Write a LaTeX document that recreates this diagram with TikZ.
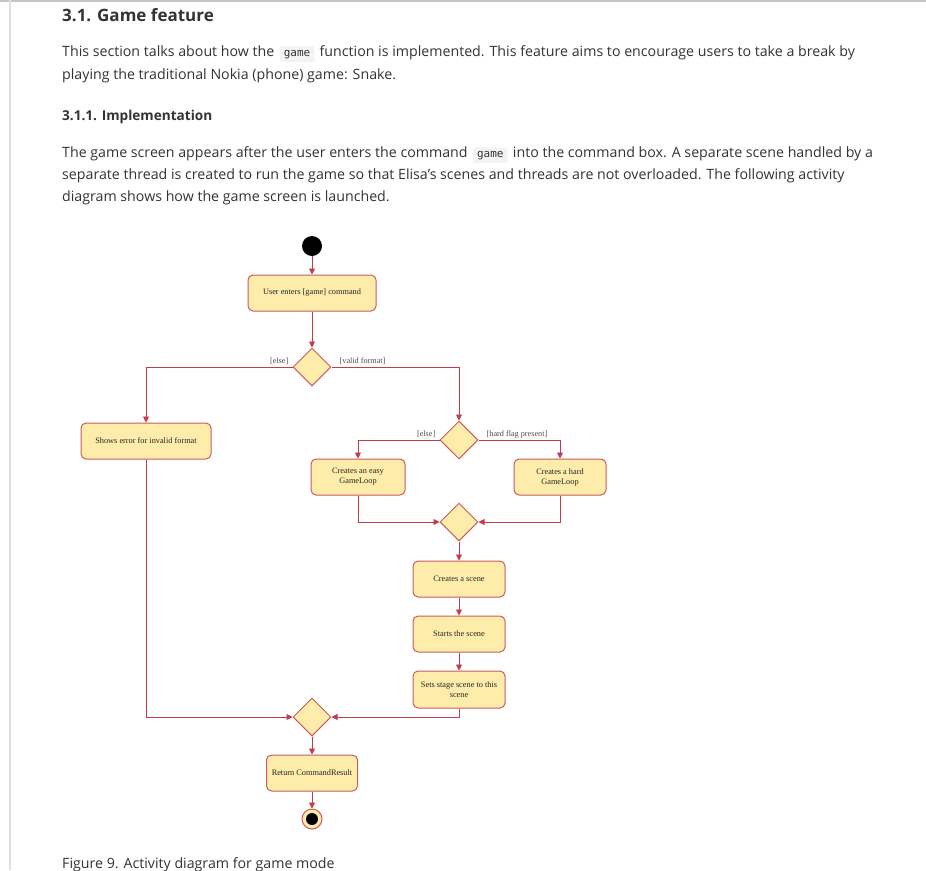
\documentclass[tikz,border=0pt]{standalone}
\usepackage{fontspec}
\setmainfont{Open Sans}
\setmonofont{DejaVu Sans Mono}
\newfontfamily\umlfont{Liberation Serif}
\usetikzlibrary{shapes.geometric,arrows.meta,positioning}
\definecolor{actfill}{RGB}{254,236,170}
\definecolor{actline}{RGB}{205,90,95}
\definecolor{flowline}{RGB}{195,60,75}
\definecolor{bodytext}{RGB}{51,51,51}
\definecolor{codefill}{RGB}{243,243,243}

\begin{document}
\begin{tikzpicture}[
    x=1pt, y=-1pt,
    actbox/.style={rectangle, draw=actline, fill=actfill, line width=1pt, rounded corners=5pt, minimum height=36pt, align=center, inner sep=2pt, font=\umlfont\fontsize{8.3}{10}\selectfont, text=black!85},
    choicebox/.style={diamond, draw=actline, fill=actfill, line width=1pt, minimum width=38pt, minimum height=38pt, inner sep=0pt},
    flow/.style={draw=flowline, line width=0.9pt, -{Triangle[length=6pt,width=6pt]}},
    guard/.style={font=\umlfont\fontsize{8.2}{9}\selectfont, text=black!70, inner sep=1pt},
    bodyline/.style={anchor=base west, inner sep=0pt, font=\fontsize{14.2}{17}\selectfont, text=bodytext},
    codebox/.style={fill=codefill, rounded corners=2pt, font=\ttfamily\fontsize{11}{12}\selectfont, inner xsep=4pt, inner ysep=3.5pt, text=bodytext}
]
    \useasboundingbox (0,0) rectangle (926,870);
    \clip (0,0) rectangle (926,870);
    \draw[gray!45, line width=1.5pt] (0,0.75) -- (926,0.75);
    \draw[gray!25, line width=1.5pt] (10,0) -- (10,870);

    % page text
    \node[bodyline, font=\bfseries\fontsize{17}{21}\selectfont] (title) at (62,21) {3.1. Game feature};
    \node[bodyline] (introa) at (62,56) {This section talks about how the};
    \node[codebox, right=5pt of introa.base east, anchor=base west] (codea) {game};
    \node[bodyline, right=5pt of codea.base east, anchor=base west] (introb) {function is implemented. This feature aims to encourage users to take a break by};
    \node[bodyline] (introc) at (62,79) {playing the traditional Nokia (phone) game: Snake.};
    \node[bodyline, font=\bfseries\fontsize{13.6}{17}\selectfont] (subtitle) at (62,120) {3.1.1. Implementation};
    \node[bodyline] (impla) at (62,157) {The game screen appears after the user enters the command};
    \node[codebox, right=5pt of impla.base east, anchor=base west] (codeb) {game};
    \node[bodyline, right=5pt of codeb.base east, anchor=base west] (implb) {into the command box. A separate scene handled by a};
    \node[bodyline] (implc) at (62,179) {separate thread is created to run the game so that Elisa's scenes and threads are not overloaded. The following activity};
    \node[bodyline] (impld) at (62,201) {diagram shows how the game screen is launched.};
    \node[bodyline] (caption) at (62,868) {Figure 9. Activity diagram for game mode};

    % activity diagram
    \node[circle, fill=black, minimum size=20pt, inner sep=0pt] (start) at (312,246) {};
    \node[actbox, minimum width=128pt] (enter) at (312,293) {User enters [game] command};
    \node[choicebox] (valid) at (312,367) {};
    \node[actbox, minimum width=130pt] (error) at (146,441) {Shows error for invalid format};
    \node[choicebox] (hard) at (459,440) {};
    \node[actbox, minimum width=94pt] (easy) at (358,477) {Creates an easy\\GameLoop};
    \node[actbox, minimum width=92pt] (hardloop) at (560,477) {Creates a hard\\GameLoop};
    \node[choicebox] (merge) at (459,522) {};
    \node[actbox, minimum width=92pt] (scene) at (459,579) {Creates a scene};
    \node[actbox, minimum width=92pt] (startscene) at (459,634) {Starts the scene};
    \node[actbox, minimum width=92pt, minimum height=37pt] (stage) at (459,689.5) {Sets stage scene to this\\scene};
    \node[choicebox] (join) at (312,717) {};
    \node[actbox, minimum width=91pt] (result) at (312,773) {Return CommandResult};
    \node[circle, draw=actline, fill=actfill, line width=1pt, minimum size=20pt, inner sep=0pt] (stop) at (312,819) {};
    \node[circle, fill=black, minimum size=12pt, inner sep=0pt] (stopdot) at (stop) {};

    \node[guard, above left=1pt and 3pt of valid.west] (elsea) {[else]};
    \node[guard, above right=1pt and 7pt of valid.east] (validlbl) {[valid format]};
    \node[guard, above left=1pt and 3pt of hard.west] (elseb) {[else]};
    \node[guard, above right=1pt and 7pt of hard.east] (hardlbl) {[hard flag present]};

    \draw[flow] (start) -- (enter);
    \draw[flow] (enter) -- (valid);
    \draw[flow] (valid.west) -| (error.north);
    \draw[flow] (valid.east) -| (hard.north);
    \draw[flow] (hard.west) -| (easy.north);
    \draw[flow] (hard.east) -| (hardloop.north);
    \draw[flow] (easy.south) |- (merge.west);
    \draw[flow] (hardloop.south) |- (merge.east);
    \draw[flow] (merge) -- (scene);
    \draw[flow] (scene) -- (startscene);
    \draw[flow] (startscene) -- (stage);
    \draw[flow] (stage.south) |- (join.east);
    \draw[flow] (error.south) |- (join.west);
    \draw[flow] (join) -- (result);
    \draw[flow] (result) -- (stop);
\end{tikzpicture}
\end{document}
